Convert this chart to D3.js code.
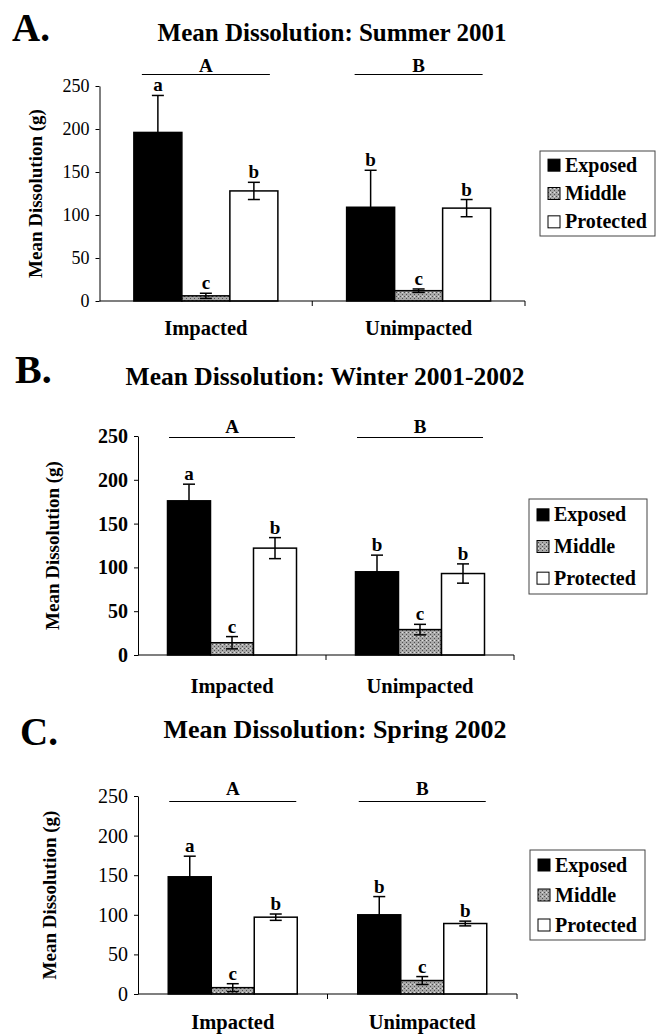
<!DOCTYPE html>
<html><head><meta charset="utf-8">
<script src="https://cdn.jsdelivr.net/npm/d3@7/dist/d3.min.js"></script>
<style>body{margin:0;background:#fff}svg{display:block}</style>
</head><body>
<svg id="chart" width="658" height="1035"></svg>
<script>
// ---------- data ----------
const categories = ["Impacted", "Unimpacted"];
const seriesNames = ["Exposed", "Middle", "Protected"];
const yTicks = [0, 50, 100, 150, 200, 250];
const groupLabels = ["A", "B"];
const sigLetters = [["a", "c", "b"], ["b", "c", "b"]];
const panelLetters = ["A.", "B.", "C."];
const panelTitles = ["Mean Dissolution: Summer 2001", "Mean Dissolution: Winter 2001-2002", "Mean Dissolution: Spring 2002"];
const yLabel = "Mean Dissolution (g)";

// means [category][series]
const summerMeans = [[196, 6, 128], [109, 12, 108]];
const summerErrors = [[43, 3, 10], [43, 2, 10]];
const winterMeans = [[176, 14, 122], [95, 29, 93]];
const winterErrors = [[19, 7, 12], [19, 6, 11]];
const springMeans = [[148, 8, 97], [100, 17, 89]];
const springErrors = [[26, 5, 4], [23, 5, 3]];

// ---------- layout ----------
const panels = [
  { means: summerMeans, errors: summerErrors,
    left: 99.5, right: 525, yTop: 86, yBottom: 301, barW: 48,
    titleX: 332, titleY: 41, titleSize: 25, letterX: 12, letterY: 41, letterSize: 39,
    ylabX: 35, tickSize: 18, tickBold: false, catY: 335,
    legend: { x: 540, y: 151, w: 115, h: 85 }, lineY: 74.5, lineW: 128, glY: 72 },
  { means: winterMeans, errors: winterErrors,
    left: 138, right: 514, yTop: 436, yBottom: 655, barW: 43,
    titleX: 325, titleY: 385, titleSize: 25.5, letterX: 15, letterY: 383, letterSize: 40,
    ylabX: 52, tickSize: 20, tickBold: true, catY: 693,
    legend: { x: 529, y: 499, w: 118, h: 95 }, lineY: 437.5, lineW: 126, glY: 433 },
  { means: springMeans, errors: springErrors,
    left: 138, right: 517, yTop: 796, yBottom: 994, barW: 43,
    titleX: 335, titleY: 738, titleSize: 26, letterX: 20, letterY: 745, letterSize: 39,
    ylabX: 49, tickSize: 20, tickBold: false, catY: 1029,
    legend: { x: 530, y: 850, w: 115, h: 90 }, lineY: 801.5, lineW: 127, glY: 795 }
];

const FONT = "'Liberation Serif','Times New Roman',serif";
const svg = d3.select("#chart");

// hatch pattern for Middle
const defs = svg.append("defs");
const pat = defs.append("pattern").attr("id", "hatch").attr("patternUnits", "userSpaceOnUse")
  .attr("width", 4).attr("height", 4);
pat.append("rect").attr("width", 4).attr("height", 4).attr("fill", "#a8a8a8");
pat.append("rect").attr("x", 0).attr("y", 0).attr("width", 1).attr("height", 1).attr("fill", "#505050");
pat.append("rect").attr("x", 2).attr("y", 2).attr("width", 1).attr("height", 1).attr("fill", "#505050");
pat.append("rect").attr("x", 2).attr("y", 0).attr("width", 1).attr("height", 1).attr("fill", "#e0e0e0");

const fills = ["#000", "url(#hatch)", "#fff"];

panels.forEach((p, pi) => {
  const g = svg.append("g");
  const y = d3.scaleLinear().domain([0, 250]).range([p.yBottom, p.yTop]);
  const x0 = d3.scaleBand().domain(categories).range([p.left, p.right]).paddingInner(0).paddingOuter(0);
  const x1 = d3.scaleBand().domain(seriesNames).range([0, p.barW * 3]).padding(0);
  const offset = (x0.bandwidth() - p.barW * 3) / 2;

  // panel letter + title
  g.append("text").attr("x", p.letterX).attr("y", p.letterY).attr("font-family", FONT)
    .attr("font-weight", "bold").attr("font-size", p.letterSize).text(panelLetters[pi]);
  g.append("text").attr("x", p.titleX).attr("y", p.titleY).attr("text-anchor", "middle")
    .attr("font-family", FONT).attr("font-weight", "bold").attr("font-size", p.titleSize).text(panelTitles[pi]);

  // y axis
  const yAxis = d3.axisLeft(y).tickValues(yTicks).tickSize(4).tickSizeOuter(0).tickPadding(6);
  const ya = g.append("g").attr("transform", `translate(${p.left},0)`).call(yAxis);
  ya.selectAll("text").attr("font-family", FONT).attr("font-size", p.tickSize)
    .attr("font-weight", p.tickBold ? "bold" : "normal").attr("fill", "#000");
  ya.selectAll("line,path").attr("stroke", "#000").attr("stroke-width", 1);

  // y label
  g.append("text").attr("transform", `translate(${p.ylabX + 7},${(p.yTop + p.yBottom) / 2}) rotate(-90)`)
    .attr("text-anchor", "middle").attr("font-family", FONT).attr("font-weight", "bold")
    .attr("font-size", 19).text(yLabel);

  // bars
  categories.forEach((c, ci) => {
    const gx = x0(c) + offset;
    seriesNames.forEach((s, si) => {
      const v = p.means[ci][si], e = p.errors[ci][si];
      const bx = gx + x1(s);
      g.append("rect").attr("x", bx).attr("y", y(v)).attr("width", x1.bandwidth())
        .attr("height", y(0) - y(v)).attr("fill", fills[si]).attr("stroke", "#000").attr("stroke-width", 1.5);
      const cx = bx + x1.bandwidth() / 2;
      g.append("line").attr("x1", cx).attr("x2", cx).attr("y1", y(v - e)).attr("y2", y(v + e))
        .attr("stroke", "#000").attr("stroke-width", 1.5);
      [v + e, v - e].forEach(t => {
        g.append("line").attr("x1", cx - 6).attr("x2", cx + 6).attr("y1", y(t)).attr("y2", y(t))
          .attr("stroke", "#000").attr("stroke-width", 1.5);
      });
      g.append("text").attr("x", cx).attr("y", y(v + e) - 4).attr("text-anchor", "middle")
        .attr("font-family", FONT).attr("font-weight", "bold").attr("font-size", 19).text(sigLetters[ci][si]);
    });
    // group significance line + label
    const mid = x0(c) + x0.bandwidth() / 2;
    g.append("line").attr("x1", mid - p.lineW / 2).attr("x2", mid + p.lineW / 2)
      .attr("y1", p.lineY).attr("y2", p.lineY).attr("stroke", "#000").attr("stroke-width", 1.2);
    g.append("text").attr("x", mid).attr("y", p.glY).attr("text-anchor", "middle")
      .attr("font-family", FONT).attr("font-weight", "bold").attr("font-size", 19).text(groupLabels[ci]);
    // category label
    g.append("text").attr("x", mid).attr("y", p.catY).attr("text-anchor", "middle")
      .attr("font-family", FONT).attr("font-weight", "bold").attr("font-size", 20.5).text(c);
  });

  // x axis
  g.append("line").attr("x1", p.left).attr("x2", p.right).attr("y1", p.yBottom).attr("y2", p.yBottom)
    .attr("stroke", "#000").attr("stroke-width", 1.2);
  categories.forEach(c => {
    const tx = x0(c) + x0.bandwidth();
    g.append("line").attr("x1", tx).attr("x2", tx).attr("y1", p.yBottom).attr("y2", p.yBottom + 5)
      .attr("stroke", "#000").attr("stroke-width", 1);
  });

  // legend
  const L = p.legend;
  const lg = g.append("g");
  lg.append("rect").attr("x", L.x).attr("y", L.y).attr("width", L.w).attr("height", L.h)
    .attr("fill", "#fff").attr("stroke", "#444").attr("stroke-width", 1);
  const step = L.h / 3;
  seriesNames.forEach((s, si) => {
    const cy = L.y + step * (si + 0.5);
    lg.append("rect").attr("x", L.x + 8).attr("y", cy - 6).attr("width", 12).attr("height", 12)
      .attr("fill", fills[si]).attr("stroke", "#000").attr("stroke-width", 1);
    lg.append("text").attr("x", L.x + 25).attr("y", cy + 6.5).attr("font-family", FONT)
      .attr("font-weight", "bold").attr("font-size", 20).text(s);
  });
});
</script>
</body></html>
